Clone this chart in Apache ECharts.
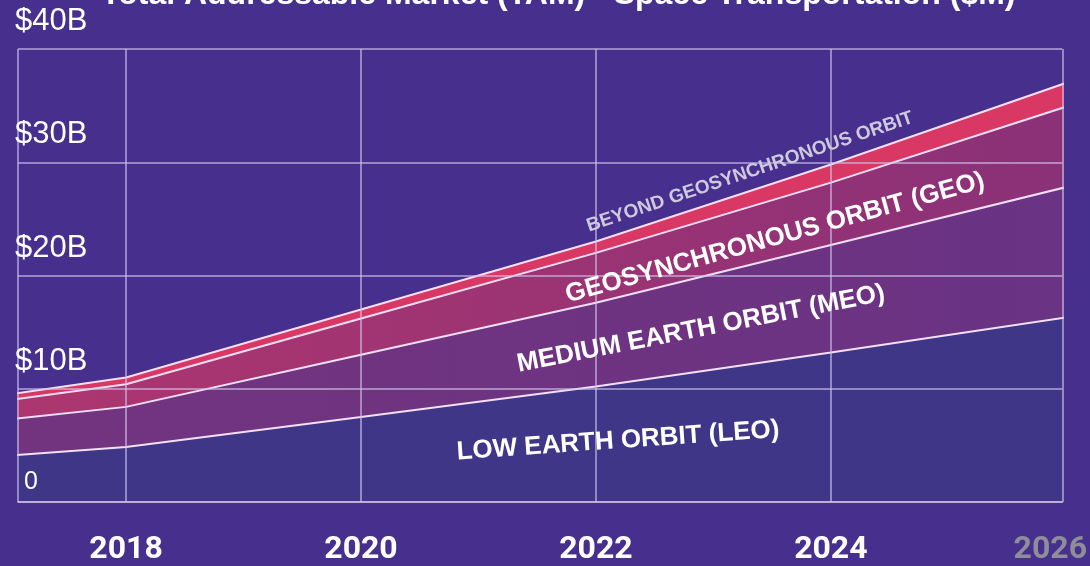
<!DOCTYPE html>
<html>
<head>
<meta charset="utf-8">
<script src="https://cdn.jsdelivr.net/npm/echarts@6/dist/echarts.min.js"></script>
<style>
html, body { margin: 0; padding: 0; background: #462f8d; }
#chart { width: 1090px; height: 566px; }
</style>
</head>
<body>
<div id="chart"></div>
<script>
// years on the x axis, values in $B (each band, stacked on the one below)
var years = [2017, 2018, 2020, 2022, 2024, 2026];
var leo = [4.1, 4.85, 7.5, 10.2, 13.2, 16.3];
var meo = [3.2, 3.55, 5.5, 7.4, 9.5, 11.5];
var geo = [1.7, 2.0, 3.2, 4.4, 5.5, 7.1];
var beyond = [0.5, 0.6, 0.8, 1.0, 1.6, 2.1];
var xMin = 2017.08, xMax = 2025.97;

var bandNames = ['LOW EARTH ORBIT (LEO)', 'MEDIUM EARTH ORBIT (MEO)', 'GEOSYNCHRONOUS ORBIT (GEO)', 'BEYOND GEOSYNCHRONOUS ORBIT'];

// value first so the stack is done on y, year second
function pairs(vals) {
    return vals.map(function (v, i) { return [v, years[i]]; });
}

function band(name, vals, fill) {
    return {
        name: name,
        type: 'line',
        stack: 'tam',
        symbol: 'none',
        encode: { x: 1, y: 0 },
        data: pairs(vals),
        lineStyle: { color: '#f3dff3', width: 2 },
        areaStyle: { color: fill, opacity: 1 }
    };
}

function bandLabel(text, x, y, deg, size, color) {
    return {
        type: 'text', x: x, y: y, z: 100,
        rotation: deg * Math.PI / 180,
        style: { text: text, fill: color, font: 'bold ' + size + 'px "Liberation Sans"', align: 'center', verticalAlign: 'middle' }
    };
}

var chart = echarts.init(document.getElementById('chart'));

var series = [
    band(bandNames[0], leo, '#3f3688'),
    band(bandNames[1], meo, new echarts.graphic.LinearGradient(0, 0, 1, 0, [
        { offset: 0, color: '#72347f' }, { offset: 1, color: '#6a3383' }])),
    band(bandNames[2], geo, new echarts.graphic.LinearGradient(0, 0, 1, 0, [
        { offset: 0, color: '#ad366f' }, { offset: 1, color: '#8b3178' }])),
    band(bandNames[3], beyond, '#d93865')
];
// vertical grid lines, drawn on top of the areas
var vLines = [xMin, 2018, 2020, 2022, 2024, xMax];
series[3].markLine = {
    silent: true,
    symbol: 'none',
    label: { show: false },
    lineStyle: { color: 'rgba(205,195,235,0.8)', width: 1.5, type: 'solid' },
    data: vLines.map(function (y) { return { xAxis: y }; })
};

chart.setOption({
    backgroundColor: '#462f8d',
    animation: false,
    title: {
        text: 'Total Addressable Market (TAM) - Space Transportation ($M)',
        left: 96,
        top: -26,
        textStyle: { color: '#ffffff', fontSize: 32, fontWeight: 'bold', fontFamily: 'Liberation Sans' }
    },
    grid: { left: 18, right: 27, top: 49, bottom: 64 },
    xAxis: {
        type: 'value',
        min: xMin,
        max: xMax,
        z: 5,
        axisLine: { show: true, lineStyle: { color: 'rgba(205,195,235,0.9)', width: 1.5 } },
        axisTick: { show: false },
        splitLine: { show: false },
        axisLabel: {
            customValues: [2018, 2020, 2022, 2024, xMax],
            margin: 32,
            fontFamily: 'Roboto',
            fontWeight: 'bold',
            fontSize: 32,
            color: '#ffffff',
            formatter: function (v) {
                var y = Math.round(v);
                if (y === 2026) return '{last|' + y + '}';
                return String(y);
            },
            rich: {
                last: { color: '#8e8d99', fontFamily: 'Roboto', fontWeight: 'bold', fontSize: 32, padding: [0, 24, 0, 0] }
            }
        }
    },
    yAxis: {
        type: 'value',
        min: 0,
        max: 40,
        interval: 10,
        z: 5,
        axisLine: { show: false },
        axisTick: { show: false },
        splitLine: { lineStyle: { color: 'rgba(205,195,235,0.8)', width: 1.5 } },
        axisLabel: {
            inside: true,
            margin: -3,
            color: '#ffffff',
            fontFamily: 'Liberation Sans',
            fontSize: 31,
            verticalAlign: 'middle',
            padding: [0, 0, 55, 0],
            formatter: function (v) {
                return v === 0 ? '{z|0}' : '$' + v + 'B';
            },
            rich: {
                z: { fontSize: 25, color: '#ffffff', fontFamily: 'Liberation Sans', padding: [16, 0, 0, 9] }
            }
        }
    },
    series: series,
    graphic: {
        z: 100,
        elements: [
            bandLabel(bandNames[0], 618, 441, 4, 26, '#ffffff'),
            bandLabel(bandNames[1], 701, 329, 11, 26, '#ffffff'),
            bandLabel(bandNames[2], 775, 238, 15.4, 26, '#ffffff'),
            bandLabel(bandNames[3], 750, 172, 18.6, 19, '#cfc9de')
        ]
    }
});
</script>
</body>
</html>
